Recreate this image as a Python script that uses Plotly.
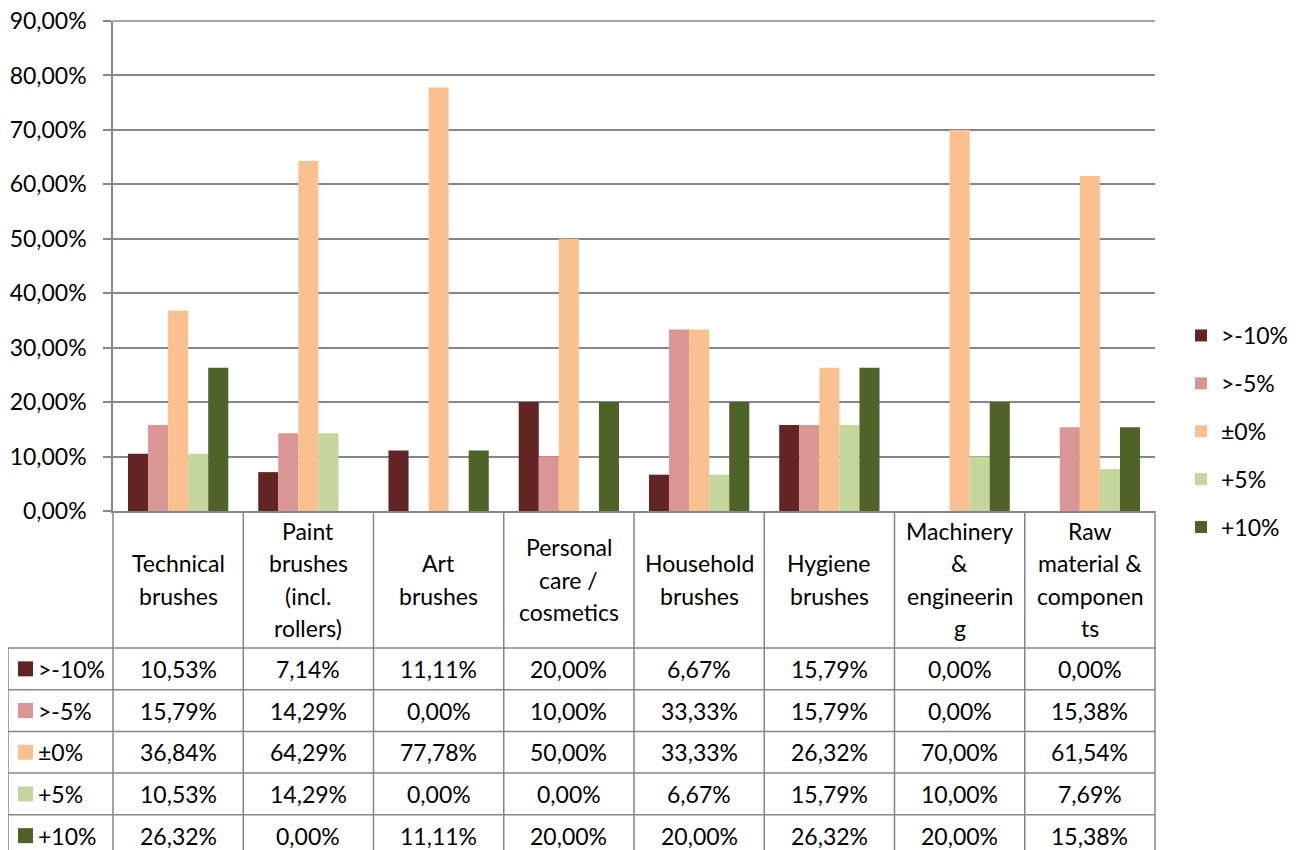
import plotly.graph_objects as go

# ---------------- data ----------------
categories = ["Technical brushes", "Paint brushes (incl. rollers)", "Art brushes",
              "Personal care / cosmetics", "Household brushes", "Hygiene brushes",
              "Machinery & engineering", "Raw material & components"]
header_labels = ["Technical<br>brushes", "Paint<br>brushes<br>(incl.<br>rollers)",
                 "Art<br>brushes", "Personal<br>care /<br>cosmetics",
                 "Household<br>brushes", "Hygiene<br>brushes",
                 "Machinery<br>&<br>engineerin<br>g", "Raw<br>material &<br>componen<br>ts"]
series_names = [">-10%", ">-5%", "±0%", "+5%", "+10%"]
minus10 = [10.53, 7.14, 11.11, 20.00, 6.67, 15.79, 0.00, 0.00]
minus5 = [15.79, 14.29, 0.00, 10.00, 33.33, 15.79, 0.00, 15.38]
zero = [36.84, 64.29, 77.78, 50.00, 33.33, 26.32, 70.00, 61.54]
plus5 = [10.53, 14.29, 0.00, 0.00, 6.67, 15.79, 10.00, 7.69]
plus10 = [26.32, 0.00, 11.11, 20.00, 20.00, 26.32, 20.00, 15.38]
series_values = [minus10, minus5, zero, plus5, plus10]
colors = ["#632523", "#D99694", "#FAC090", "#C3D69B", "#4F6228"]
y_ticks = [0, 10, 20, 30, 40, 50, 60, 70, 80, 90]
y_tick_labels = ["0,00%", "10,00%", "20,00%", "30,00%", "40,00%",
                 "50,00%", "60,00%", "70,00%", "80,00%", "90,00%"]

# ---------------- layout geometry ----------------
# screen pixels of the target; the page body adds an 8px offset
OFF = 8
W, H = 1303 - OFF, 850 - OFF
SL, SR, ST, SB = 113, 1155, 21, 511          # plot area in screen pixels
L, R, T, B = SL - OFF, SR - OFF, ST - OFF, SB - OFF
GRID = "#868686"
FONT = "Lato, 'Open Sans', sans-serif"
FS = 23


def px_x(px):
    """screen x pixel -> paper coordinate"""
    return (px - SL) / (SR - SL)


def px_y(py):
    """screen y pixel -> paper coordinate"""
    return (SB - py) / (SB - ST)


fig = go.Figure()
for name, vals, col in zip(series_names, series_values, colors):
    fig.add_trace(go.Bar(x=categories, y=vals, name=name, legendgroup=name,
                         marker=dict(color=col, line=dict(width=0))))

shapes = []
annotations = []

# top gridline (at the upper end of the value axis, which plotly omits at the edge)
shapes.append(dict(type="line", xref="paper", yref="paper", x0=0, x1=1, y0=1, y1=1,
                   line=dict(color=GRID, width=1.5), layer="below"))

# table geometry (screen pixels)
header_bottom = 648
row_h = 41.7
table_left = 8
n = len(categories)

# vertical lines at category boundaries
for i in range(n + 1):
    shapes.append(dict(type="line", xref="paper", yref="paper",
                       x0=i / n, x1=i / n, y0=px_y(SB), y1=px_y(870),
                       line=dict(color=GRID, width=1.5)))
# left border of the row-label column
shapes.append(dict(type="line", xref="paper", yref="paper",
                   x0=px_x(table_left), x1=px_x(table_left),
                   y0=px_y(header_bottom), y1=px_y(870),
                   line=dict(color=GRID, width=1.5)))
# horizontal row lines
for k in range(len(series_names) + 1):
    yy = header_bottom + k * row_h
    shapes.append(dict(type="line", xref="paper", yref="paper",
                       x0=px_x(table_left), x1=1, y0=px_y(yy), y1=px_y(yy),
                       line=dict(color=GRID, width=1.5)))

# header labels, one annotation per line for Excel-like line spacing
line_h = 32.5
head_c = (SB + header_bottom) / 2
for cat, lab in zip(categories, header_labels):
    parts = lab.split("<br>")
    m = len(parts)
    for j, part in enumerate(parts):
        yy = head_c + (j - (m - 1) / 2) * line_h
        annotations.append(dict(x=cat, xref="x", y=px_y(yy), yref="paper",
                                text=part, showarrow=False, xanchor="center",
                                yanchor="middle",
                                font=dict(family=FONT, size=FS, color="black")))

# rows
for r, (name, vals, col) in enumerate(zip(series_names, series_values, colors)):
    yc = header_bottom + r * row_h + row_h / 2
    shapes.append(dict(type="rect", xref="paper", yref="paper",
                       x0=px_x(18), x1=px_x(33), y0=px_y(yc + 7.5), y1=px_y(yc - 7.5),
                       fillcolor=col, line=dict(width=0)))
    annotations.append(dict(x=px_x(36), xref="paper", y=px_y(yc), yref="paper",
                            text=name, showarrow=False, xanchor="left", yanchor="middle",
                            font=dict(family=FONT, size=FS, color="black")))
    for cat, v in zip(categories, vals):
        annotations.append(dict(x=cat, xref="x", y=px_y(yc), yref="paper",
                                text=f"{v:.2f}%".replace(".", ","), showarrow=False,
                                xanchor="center", yanchor="middle",
                                font=dict(family=FONT, size=FS, color="black")))

fig.update_layout(
    width=W, height=H,
    margin=dict(l=L, r=W - R, t=T, b=H - B, pad=0, autoexpand=False),
    paper_bgcolor="white", plot_bgcolor="white",
    separators=",.",
    barmode="group", bargap=0.23, bargroupgap=0,
    font=dict(family=FONT, size=FS, color="black"),
    showlegend=True,
    legend=dict(x=px_x(1181), xanchor="left", y=px_y(431.5), yanchor="middle",
                font=dict(family=FONT, size=FS, color="black"),
                tracegroupgap=15, bgcolor="rgba(0,0,0,0)"),
    xaxis=dict(type="category", range=[-0.5, n - 0.5], showticklabels=False,
               showgrid=False, showline=True, linecolor=GRID, linewidth=1.5,
               ticks="", zeroline=False, automargin=False),
    yaxis=dict(range=[0, 90], tickmode="array", tickvals=y_ticks, ticktext=y_tick_labels,
               showgrid=True, gridcolor=GRID, gridwidth=1.5,
               showline=True, linecolor=GRID, linewidth=1.5,
               ticks="outside", ticklen=8, tickcolor=GRID, tickwidth=1.5,
               ticklabelstandoff=12, ticklabeloverflow="allow",
               zeroline=False, automargin=False,
               tickfont=dict(family=FONT, size=FS, color="black")),
    shapes=shapes, annotations=annotations,
)

fig.write_html("out.html")
